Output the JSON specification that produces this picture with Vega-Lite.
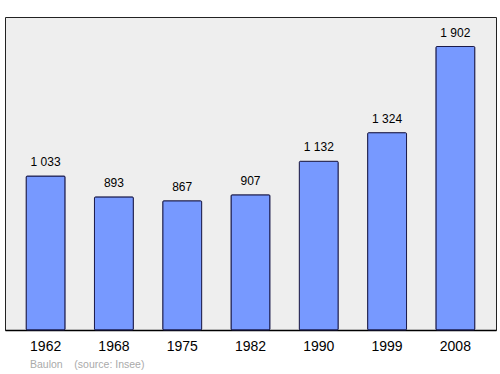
{
  "$schema": "https://vega.github.io/schema/vega-lite/v6.json",
  "width": 491,
  "height": 313,
  "autosize": {"type": "none"},
  "padding": {"left": 5, "top": 17, "right": 4, "bottom": 44},
  "background": "white",
  "config": {
    "font": "Liberation Sans",
    "view": {"fill": "#eeeeee", "stroke": "#222222", "strokeWidth": 1}
  },
  "title": {
    "text": "Baulon\u00a0\u00a0\u00a0\u00a0(source: Insee)",
    "orient": "bottom",
    "anchor": "start",
    "fontSize": 10.5,
    "fontWeight": "normal",
    "color": "#aaaaaa",
    "offset": 7,
    "dx": 25
  },
  "data": {
    "values": [
      {"year": "1962", "pop": 1033, "label": "1 033"},
      {"year": "1968", "pop": 893, "label": "893"},
      {"year": "1975", "pop": 867, "label": "867"},
      {"year": "1982", "pop": 907, "label": "907"},
      {"year": "1990", "pop": 1132, "label": "1 132"},
      {"year": "1999", "pop": 1324, "label": "1 324"},
      {"year": "2008", "pop": 1902, "label": "1 902"}
    ]
  },
  "encoding": {
    "x": {
      "field": "year",
      "type": "nominal",
      "sort": null,
      "scale": {"paddingInner": 0.43, "paddingOuter": 0.31},
      "axis": {
        "title": null,
        "labelAngle": 0,
        "labelFontSize": 14,
        "labelColor": "#000000",
        "labelPadding": 9,
        "ticks": false,
        "domainColor": "#000000",
        "domainWidth": 1.5
      }
    },
    "y": {
      "field": "pop",
      "type": "quantitative",
      "scale": {"domain": [0, 2100]},
      "axis": null
    }
  },
  "layer": [
    {
      "mark": {"type": "bar", "fill": "#7799ff", "stroke": "#1a1a4a", "strokeWidth": 1, "cornerRadius": 1}
    },
    {
      "mark": {"type": "text", "dy": -7, "fontSize": 12, "color": "#000000", "baseline": "bottom"},
      "encoding": {"text": {"field": "label"}}
    }
  ]
}
